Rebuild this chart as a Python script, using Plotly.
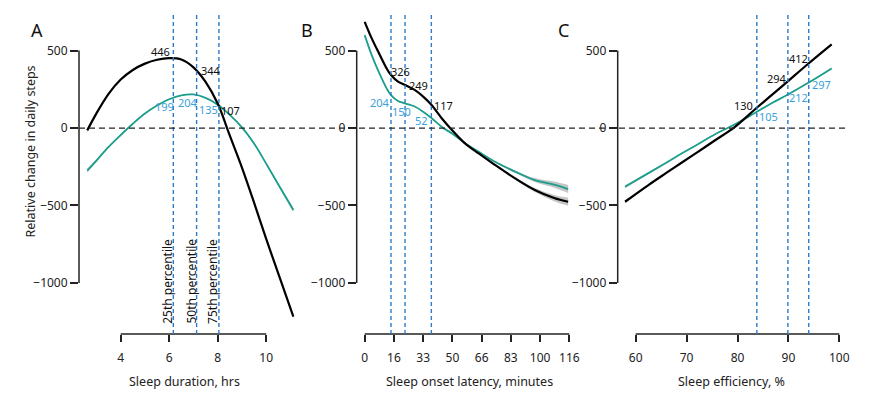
import plotly.graph_objects as go

W, H = 870, 394
FONT = "Noto Sans"

# ---------------- data ----------------
# Panel A: sleep duration (hrs)
dur_x = [2.62, 3.0, 3.5, 4.0, 4.5, 5.0, 5.5, 6.0, 6.5, 7.0, 7.5, 8.0, 8.5, 9.0, 9.5, 10.0, 10.5, 11.12]
dur_black = [-15, 95, 221, 313, 375, 416, 441, 451, 443, 392, 298, 158, -49, -255, -482, -716, -940, -1218]
dur_teal = [-275, -210, -122, -45, 28, 94, 145, 186, 211, 217, 195, 151, 85, 4, -100, -230, -365, -529]
dur_ci = [14, 8, 4, 3, 3, 3, 3, 3, 3, 3, 3, 3, 3, 4, 5, 6, 9, 14]
dur_pct = [6.17, 7.13, 8.05]
dur_lab_black = [446, 344, 107]
dur_lab_teal = [199, 204, 135]

# Panel B: sleep onset latency (minutes)
sol_x = [0, 4, 8.5, 12.5, 15, 19, 23, 28.5, 33.5, 38, 44, 50, 57, 65, 74, 86, 97, 108, 116]
sol_black = [686, 579, 475, 385, 342, 300, 278, 246, 201, 150, 62, -16, -97, -164, -236, -327, -400, -452, -476]
sol_teal = [600, 471, 350, 256, 213, 175, 159, 139, 104, 65, 7, -37, -97, -154, -216, -283, -336, -366, -394]
sol_ci = [8, 5, 4, 3, 3, 3, 3, 3, 3, 3, 3, 3, 3, 4, 5, 8, 13, 20, 26]
sol_pct = [15, 23, 38]
sol_lab_black = [326, 249, 117]
sol_lab_teal = [204, 150, 52]
sol_ticks = [0, 16.67, 33.33, 50, 66.67, 83.33, 100, 116.67]
sol_ticktext = ["0", "16", "33", "50", "66", "83", "100", "116"]

# Panel C: sleep efficiency (%)
eff_x = [57.9, 62.5, 66, 69, 72.3, 75.6, 79.5, 83.4, 86.7, 90, 93.9, 98.5]
eff_black = [-476, -368, -290, -224, -152, -79, 8, 120, 212, 305, 415, 540]
eff_teal = [-379, -291, -224, -165, -103, -40, 24, 97, 160, 218, 292, 385]
eff_ci = [10, 6, 4, 3, 3, 3, 3, 3, 3, 3, 4, 6]
eff_pct = [83.8, 89.9, 94.0]
eff_lab_black = [130, 294, 412]
eff_lab_teal = [105, 212, 297]

y_ticks = [-1000, -500, 0, 500]

# ---------------- style ----------------
BLACK = "#000000"
TEAL = "#1b9e8c"
TEAL_LABEL = "#3b9fd9"
VLINE = "#2b7bcc"
CI_COLOR = "rgba(150,150,150,0.55)"

# layout geometry (pixels)
Y_TOP_PX, Y_BOT_PX = 15, 334
YRANGE = [-1330, 730]
ydom = [1 - Y_BOT_PX / H, 1 - Y_TOP_PX / H]

panels = [
    dict(xd=[79, 300], xr=[2.280, 11.394], x=dur_x, b=dur_black, t=dur_teal, ci=dur_ci,
         pct=dur_pct, lb=dur_lab_black, lt=dur_lab_teal, ticks=[4, 6, 8, 10], ttext=None,
         axis=[4, 10], title="Sleep duration, hrs", title_x=184.5, letter="A", letter_x=37,
         sb=[(-13, 7), (14.3, 4), (12, 1.4)], st=[(-9.2, -8.8), (-9, -6.3), (-10, -2)]),
    dict(xd=[356.7, 600], xr=[-4.56, 134.15], x=sol_x, b=sol_black, t=sol_teal, ci=sol_ci,
         pct=sol_pct, lb=sol_lab_black, lt=sol_lab_teal, ticks=sol_ticks, ttext=sol_ticktext,
         axis=[0, 116.67], title="Sleep onset latency, minutes", title_x=469.7, letter="B", letter_x=307,
         sb=[(9.3, 5.8), (13, 4.4), (12, 4.6)], st=[(-10.7, -6.3), (-4, -6.9), (-9.6, -0.8)]),
    dict(xd=[617.7, 860], xr=[56.46, 104.07], x=eff_x, b=eff_black, t=eff_teal, ci=eff_ci,
         pct=eff_pct, lb=eff_lab_black, lt=eff_lab_teal, ticks=[60, 70, 80, 90, 100], ttext=None,
         axis=[60, 100], title="Sleep efficiency, %", title_x=731.7, letter="C", letter_x=563,
         sb=[(-13.4, 2.6), (-10.4, 3.8), (-10.4, 5.5)], st=[(11.3, -5), (10.3, -2.5), (12.6, -2.7)]),
]

fig = go.Figure()
shapes = []
annotations = []

for i, p in enumerate(panels):
    n = "" if i == 0 else str(i + 1)
    xa, ya = "x" + n, "y" + n
    # confidence bands
    for series in (p["b"], p["t"]):
        upper = [v + c for v, c in zip(series, p["ci"])]
        lower = [v - c for v, c in zip(series, p["ci"])]
        fig.add_trace(go.Scatter(x=p["x"], y=upper, mode="lines", line=dict(width=0, shape="spline"),
                                 xaxis=xa, yaxis=ya, showlegend=False, hoverinfo="skip"))
        fig.add_trace(go.Scatter(x=p["x"], y=lower, mode="lines", line=dict(width=0, shape="spline"),
                                 fill="tonexty", fillcolor=CI_COLOR,
                                 xaxis=xa, yaxis=ya, showlegend=False, hoverinfo="skip"))
    fig.add_trace(go.Scatter(x=p["x"], y=p["t"], mode="lines",
                             line=dict(color=TEAL, width=1.8, shape="spline"),
                             xaxis=xa, yaxis=ya, showlegend=False))
    fig.add_trace(go.Scatter(x=p["x"], y=p["b"], mode="lines",
                             line=dict(color=BLACK, width=2.2, shape="spline"),
                             xaxis=xa, yaxis=ya, showlegend=False))

    xaxis = dict(domain=[p["xd"][0] / W, p["xd"][1] / W], range=p["xr"], anchor=ya,
                 showgrid=False, zeroline=False, showline=False, automargin=False,
                 ticks="outside", ticklen=7, tickwidth=1.5, tickcolor="#222",
                 tickvals=p["ticks"], ticklabelstandoff=6,
                 tickfont=dict(family=FONT, size=12, color="#222"))
    if p["ttext"]:
        xaxis["ticktext"] = p["ttext"]
    yaxis = dict(domain=ydom, range=YRANGE, anchor=xa, showgrid=False, zeroline=False,
                 showline=False, automargin=False, ticks="outside", ticklen=8, tickwidth=1.5,
                 tickcolor="#222", tickvals=y_ticks,
                 tickfont=dict(family=FONT, size=12, color="#222"))
    fig.update_layout(**{"xaxis" + n: xaxis, "yaxis" + n: yaxis})

    # axis lines
    shapes.append(dict(type="line", xref=xa, yref=ya + " domain", x0=p["axis"][0], x1=p["axis"][1],
                       y0=0, y1=0, line=dict(color="#222", width=1.5)))
    shapes.append(dict(type="line", xref=xa + " domain", yref=ya, x0=0, x1=0,
                       y0=-1000, y1=500, line=dict(color="#222", width=1.5)))
    # percentile lines
    for px in p["pct"]:
        shapes.append(dict(type="line", xref=xa, yref=ya + " domain", x0=px, x1=px, y0=0, y1=1,
                           line=dict(color=VLINE, width=1.4, dash="4px,3px")))
    # value labels
    for px, v, (dx, dy) in zip(p["pct"], p["lb"], p["sb"]):
        annotations.append(dict(x=px, y=v, xref=xa, yref=ya, text=str(v), showarrow=False,
                                xanchor="center", yanchor="middle",
                                xshift=dx, yshift=dy, font=dict(family=FONT, size=11, color="#111")))
    for px, v, (dx, dy) in zip(p["pct"], p["lt"], p["st"]):
        annotations.append(dict(x=px, y=v, xref=xa, yref=ya, text=str(v), showarrow=False,
                                xanchor="center", yanchor="middle",
                                xshift=dx, yshift=dy, font=dict(family=FONT, size=11, color=TEAL_LABEL)))
    # axis title
    annotations.append(dict(x=p["title_x"] / W, y=1 - 381 / H, xref="paper", yref="paper",
                            xanchor="center", yanchor="middle",
                            text=p["title"], showarrow=False,
                            font=dict(family=FONT, size=12.5, color="#222")))
    # panel letter
    annotations.append(dict(x=p["letter_x"] / W, y=1 - 30 / H, xref="paper", yref="paper",
                            xanchor="center", yanchor="middle",
                            text=p["letter"], showarrow=False,
                            font=dict(family=FONT, size=18, color="#111")))

# percentile names in panel A
for px, name, dx in zip(dur_pct, ["25th percentile", "50th percentile", "75th percentile"], [-6.5, -6, -7]):
    annotations.append(dict(x=px, y=1 - 281 / H, xref="x", yref="paper", text=name, textangle=-90,
                            xanchor="center", yanchor="middle",
                            showarrow=False, xshift=dx, font=dict(family=FONT, size=12, color="#111")))

# y title
annotations.append(dict(x=30 / W, y=1 - 151.5 / H, xref="paper", yref="paper",
                        xanchor="center", yanchor="middle",
                        text="Relative change in daily steps", textangle=-90, showarrow=False,
                        font=dict(family=FONT, size=12.5, color="#222")))

# horizontal zero line across all panels
shapes.append(dict(type="line", xref="paper", yref="y", x0=79 / W, x1=848 / W, y0=0, y1=0,
                   line=dict(color="#222", width=1.2, dash="6px,4px")))

fig.update_layout(width=W, height=H, margin=dict(l=0, r=0, t=0, b=0, autoexpand=False),
                  paper_bgcolor="white", plot_bgcolor="white",
                  shapes=shapes, annotations=annotations,
                  font=dict(family=FONT))

fig.write_html("out.html", config={"displayModeBar": False},
               post_script="document.body.style.margin='0';document.body.style.padding='0';")
